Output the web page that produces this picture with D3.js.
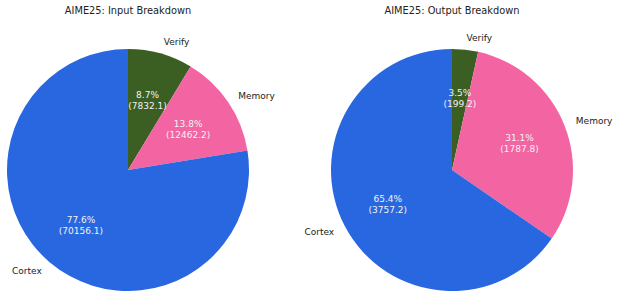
<!DOCTYPE html>
<html><head><meta charset="utf-8">
<script src="https://cdn.jsdelivr.net/npm/d3@7"></script>
<style>body{margin:0;background:#fff}svg{display:block}text{font-family:"DejaVu Sans",sans-serif}</style>
</head><body>
<svg id="c" width="620" height="298"></svg>
<script>
const categories = ["Verify", "Memory", "Cortex"];
const inputValues = [7832.1, 12462.2, 70156.1];
const outputValues = [199.2, 1787.8, 3757.2];
const titles = ["AIME25: Input Breakdown", "AIME25: Output Breakdown"];
const colors = ["#3b5e23", "#f364a2", "#2867e0"];

const svg = d3.select("#c");
const color = d3.scaleOrdinal().domain(categories).range(colors);
const panels = [
  {title: titles[0], values: inputValues, cx: 128, cy: 170},
  {title: titles[1], values: outputValues, cx: 452, cy: 170}
];
const R = 121;
panels.forEach(p => {
  const g = svg.append("g").attr("transform", `translate(${p.cx},${p.cy})`);
  const data = categories.map((c, i) => ({cat: c, v: p.values[i]}));
  const total = d3.sum(p.values);
  const pie = d3.pie().value(d => d.v).sort(null);
  const arcs = pie(data);
  const arc = d3.arc().innerRadius(0).outerRadius(R);
  g.selectAll("path").data(arcs).join("path")
    .attr("d", arc).attr("fill", d => color(d.data.cat));
  arcs.forEach(a => {
    const m = (a.startAngle + a.endAngle) / 2;
    const lx = 1.1 * R * Math.sin(m), ly = -1.1 * R * Math.cos(m);
    g.append("text").attr("x", lx).attr("y", ly)
      .attr("text-anchor", lx >= 0 ? "start" : "end")
      .attr("dominant-baseline", "central")
      .attr("font-size", 9).attr("fill", "#222").text(a.data.cat);
    const px = 0.6 * R * Math.sin(m), py = -0.6 * R * Math.cos(m);
    const t = g.append("text").attr("text-anchor", "middle")
      .attr("font-size", 9).attr("fill", "#f2f2f2");
    t.append("tspan").attr("x", px).attr("y", py - 2).text((a.data.v / total * 100).toFixed(1) + "%");
    t.append("tspan").attr("x", px).attr("y", py + 9).text("(" + a.data.v.toFixed(1) + ")");
  });
  svg.append("text").attr("x", p.cx).attr("y", 14).attr("text-anchor", "middle")
    .attr("font-size", 9.8).attr("fill", "#222").text(p.title);
});
</script>
</body></html>
